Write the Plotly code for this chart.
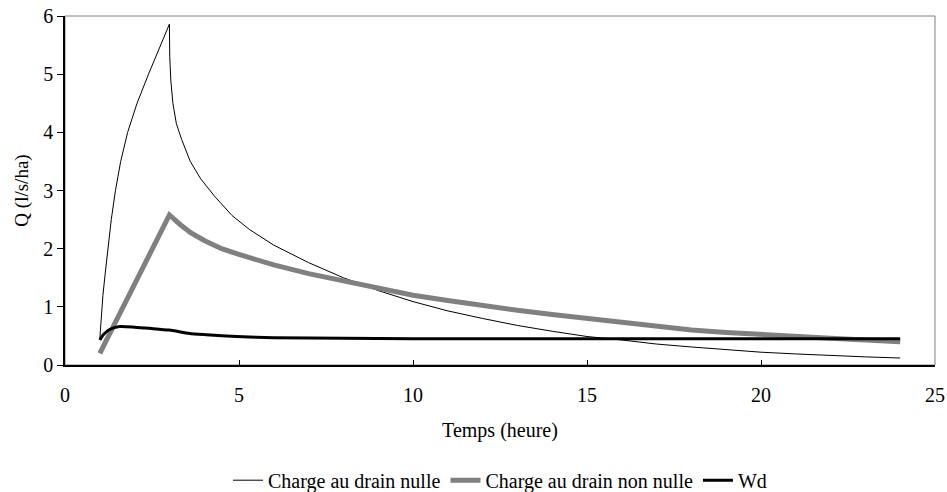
import plotly.graph_objects as go

# Charge au drain nulle
t_nulle = [1.0, 1.04, 1.09, 1.16, 1.23, 1.33, 1.45, 1.6, 1.8, 2.07, 2.4, 2.7, 3.0,
           3.01, 3.04, 3.1, 3.2, 3.35, 3.6, 3.9, 4.3, 4.8, 5.3, 6, 7, 8, 9, 10, 11, 12,
           13, 14, 15, 16, 17, 18, 19, 20, 21, 22, 23, 24]
q_nulle = [0.45, 0.8, 1.2, 1.6, 2.0, 2.5, 3.0, 3.5, 4.0, 4.5, 5.0, 5.42, 5.86,
           5.3, 4.9, 4.5, 4.15, 3.88, 3.5, 3.2, 2.9, 2.57, 2.33, 2.06, 1.76, 1.50, 1.28, 1.09, 0.93, 0.80,
           0.68, 0.58, 0.49, 0.43, 0.36, 0.31, 0.26, 0.22, 0.19, 0.16, 0.14, 0.12]

# Charge au drain non nulle
t_non_nulle = [1.0, 1.5, 2.0, 2.5, 3.0, 3.3, 3.6, 4.0, 4.5, 5.0, 5.5, 6, 7, 8, 9, 10, 11, 12, 13, 14,
               15, 16, 17, 18, 19, 20, 21, 22, 23, 24]
q_non_nulle = [0.2, 0.8, 1.4, 2.0, 2.58, 2.42, 2.28, 2.14, 2.0, 1.9, 1.81, 1.72, 1.57, 1.44, 1.31, 1.20,
               1.11, 1.02, 0.94, 0.87, 0.80, 0.72, 0.66, 0.60, 0.56, 0.52, 0.49, 0.46, 0.43, 0.40]

# Wd
t_wd = [1.0, 1.1, 1.28, 1.57, 2.0, 2.43, 3.0, 3.58, 4.06, 4.93, 6, 8, 10, 12, 14, 16, 18, 20, 22, 23, 24]
q_wd = [0.43, 0.52, 0.61, 0.66, 0.65, 0.63, 0.60, 0.54, 0.52, 0.49, 0.47, 0.46, 0.45, 0.45, 0.45, 0.45,
        0.45, 0.45, 0.45, 0.45, 0.45]

x_ticks = [0, 5, 10, 15, 20, 25]
y_ticks = [0, 1, 2, 3, 4, 5, 6]

FONT = "Liberation Serif"
FS = 20

fig = go.Figure()
fig.add_trace(go.Scatter(x=t_nulle, y=q_nulle, mode="lines", name="Charge au drain nulle",
                         line=dict(color="black", width=1)))
fig.add_trace(go.Scatter(x=t_non_nulle, y=q_non_nulle, mode="lines", name="Charge au drain non nulle",
                         line=dict(color="#808080", width=5)))
fig.add_trace(go.Scatter(x=t_wd, y=q_wd, mode="lines", name="Wd",
                         line=dict(color="black", width=3, shape="spline", smoothing=0.6)))

fig.update_layout(
    width=947, height=492,
    margin=dict(l=65, r=12, t=16, b=127, autoexpand=False),
    paper_bgcolor="white", plot_bgcolor="white",
    font=dict(family=FONT, size=FS, color="black"),
    showlegend=True,
    legend=dict(orientation="h", xref="paper", x=0.5, xanchor="center",
                yref="container", y=0.024, yanchor="middle",
                font=dict(family=FONT, size=FS, color="black"),
                itemwidth=30, tracegroupgap=0, traceorder="normal"),
    shapes=[dict(type="rect", xref="paper", yref="paper", x0=0, y0=0, x1=1, y1=1,
                 line=dict(color="#808080", width=1), layer="below")],
)
fig.update_xaxes(range=[0, 25], tickvals=x_ticks, ticktext=[str(v) for v in x_ticks],
                 showgrid=False, zeroline=False, showline=True, linecolor="black", linewidth=1.5,
                 ticks="inside", ticklen=5, tickcolor="black", automargin=False,
                 ticklabelstandoff=11,
                 title=dict(text="Temps (heure)", font=dict(family=FONT, size=FS), standoff=18),
                 tickfont=dict(family=FONT, size=FS))
fig.update_yaxes(range=[0, 6], tickvals=y_ticks, ticktext=[str(v) for v in y_ticks],
                 showgrid=False, zeroline=False, showline=True, linecolor="black", linewidth=1.5,
                 ticks="outside", ticklen=6, tickcolor="black", automargin=False,
                 title=dict(text="Q (l/s/ha)", font=dict(family=FONT, size=19), standoff=10),
                 tickfont=dict(family=FONT, size=FS))

fig.write_html("out.html",
               config={"displayModeBar": False},
               post_script="document.body.style.margin='0';document.body.style.overflow='hidden';")
